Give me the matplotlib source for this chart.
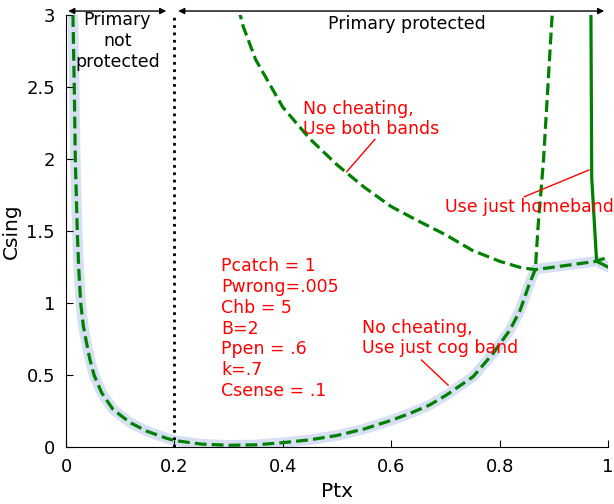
import numpy as np
import matplotlib
matplotlib.use("Agg")
import matplotlib.pyplot as plt

# cost when the secondary only uses the cognitive band
cog_x = [0.0128, 0.0153, 0.0172, 0.0209, 0.0234, 0.0271, 0.032, 0.038, 0.044, 0.0517,
         0.066, 0.087, 0.118, 0.149, 0.186, 0.2, 0.25, 0.3, 0.35, 0.4, 0.45, 0.5,
         0.55, 0.6, 0.635, 0.67, 0.702, 0.751, 0.788, 0.819, 0.838, 0.853, 0.866,
         0.871, 0.881, 0.896, 0.898]
cog_y = [3.0, 2.49, 1.99, 1.49, 1.245, 1.0, 0.84, 0.72, 0.61, 0.5,
         0.375, 0.26, 0.17, 0.11, 0.06, 0.045, 0.02, 0.012, 0.015, 0.03, 0.05, 0.08,
         0.125, 0.185, 0.234, 0.29, 0.361, 0.488, 0.65, 0.8125, 0.95, 1.113, 1.235,
         1.53, 1.99, 2.94, 3.05]

# cost when both bands are used
both_x = [0.318, 0.327, 0.35, 0.4, 0.45, 0.5, 0.55, 0.6, 0.65, 0.7, 0.75,
          0.8, 0.84, 0.866, 0.979, 1.0]
both_y = [3.05, 2.92, 2.69, 2.36, 2.14, 1.96, 1.805, 1.67, 1.57, 1.475, 1.365,
          1.29, 1.245, 1.232, 1.29, 1.32]

# cost when only the home band is used
home_x = [0.9685, 0.970, 0.979, 1.0]
home_y = [3.05, 1.87, 1.29, 1.25]

params = ["Pcatch = 1", "Pwrong=.005", "Chb = 5", "B=2", "Ppen = .6", "k=.7", "Csense = .1"]

cog_x, cog_y = np.array(cog_x), np.array(cog_y)
both_x, both_y = np.array(both_x), np.array(both_y)
home_x, home_y = np.array(home_x), np.array(home_y)

# lower envelope: cog band, then both bands, then home band
m1 = cog_x <= 0.866
m2 = (both_x > 0.866) & (both_x <= 0.979)
m3 = home_x > 0.979
env_x = np.concatenate([cog_x[m1], both_x[m2], home_x[m3]])
env_y = np.concatenate([cog_y[m1], both_y[m2], home_y[m3]])

fig = plt.figure(figsize=(6.14, 5.04), dpi=100)
ax = fig.add_axes([0.1075, 0.1131, 0.8827, 0.857])

ax.plot(env_x, env_y, color='#d6e0f2', lw=7.5, solid_capstyle='round',
        solid_joinstyle='round', zorder=1)
ax.plot(cog_x, cog_y, color='green', lw=2.3, ls='--', zorder=2)
ax.plot(both_x, both_y, color='green', lw=2.3, ls='--', zorder=2)
ax.plot(home_x, home_y, color='green', lw=2.3, zorder=2)
ax.axvline(0.2, color='black', ls=':', lw=2, zorder=3)

ax.set_xlim(0, 1)
ax.set_ylim(0, 3)
ax.set_xticks([0, 0.2, 0.4, 0.6, 0.8, 1])
ax.set_xticklabels(['0', '0.2', '0.4', '0.6', '0.8', '1'])
ax.set_yticks([0, 0.5, 1, 1.5, 2, 2.5, 3])
ax.set_yticklabels(['0', '0.5', '1', '1.5', '2', '2.5', '3'])
ax.tick_params(direction='in', length=5, labelsize=13, pad=8)
for s in ['top', 'right']:
    ax.spines[s].set_visible(False)
ax.set_xlabel('Ptx', fontsize=14.5, labelpad=4)
ax.set_ylabel('Csing', fontsize=14.5, labelpad=4)

# region arrows above the axes
ax.annotate('', xy=(0.004, 3.028), xytext=(0.185, 3.028), xycoords='data',
            arrowprops=dict(arrowstyle='<|-|>', color='black', lw=1, mutation_scale=9,
                            shrinkA=0, shrinkB=0), annotation_clip=False)
ax.annotate('', xy=(0.207, 3.028), xytext=(0.993, 3.028), xycoords='data',
            arrowprops=dict(arrowstyle='<|-|>', color='black', lw=1, mutation_scale=9,
                            shrinkA=0, shrinkB=0), annotation_clip=False)
ax.text(0.095, 2.82, 'Primary\nnot\nprotected', ha='center', va='center',
        fontsize=12.5, linespacing=1.2)
ax.text(0.6285, 2.94, 'Primary protected', ha='center', va='center', fontsize=12.5)

red = '#ff0000'
ax.text(0.437, 2.278, 'No cheating,\nUse both bands', color=red, fontsize=12.5,
        ha='left', va='center', linespacing=1.2)
ax.plot([0.570, 0.518], [2.137, 1.912], color=red, lw=1)
ax.text(0.70, 1.669, 'Use just homeband', color=red, fontsize=12.5, ha='left', va='center')
ax.plot([0.8456, 0.965], [1.738, 1.924], color=red, lw=1)
ax.text(0.546, 0.757, 'No cheating,\nUse just cog band', color=red, fontsize=12.5,
        ha='left', va='center', linespacing=1.2)
ax.plot([0.656, 0.705], [0.604, 0.43], color=red, lw=1)
ax.text(0.286, 0.823, '\n'.join(params), color=red, fontsize=12.5,
        ha='left', va='center', linespacing=1.2)

fig.savefig('out.png', dpi=100)
